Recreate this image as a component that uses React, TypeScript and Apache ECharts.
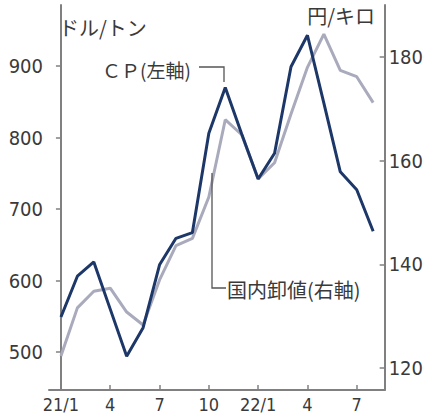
import React, { useEffect, useRef } from "react";
import * as echarts from "echarts";

// Month index 0 = 2021/1 ... 19 = 2022/8
const monthIndex = [0, 1, 2, 3, 4, 5, 6, 7, 8, 9, 10, 11, 12, 13, 14, 15, 16, 17, 18, 19];
// CP (left axis, $/ton)
const cpValues = [549, 606, 626, 560, 494, 534, 622, 659, 667, 806, 870, 805, 742, 778, 899, 943, 848, 752, 727, 669];
// Domestic wholesale price (right axis, yen/kg)
const domesticValues = [122.3, 131.6, 134.8, 135.4, 130.8, 128.3, 137.0, 143.6, 145.0, 153.0, 167.9, 165.0, 156.5, 159.6, 169.0, 178.0, 184.4, 177.4, 176.2, 171.2];
const xTickValues = [0, 3, 6, 9, 12, 15, 18];
const xTickLabels = ["21/1", "4", "7", "10", "22/1", "4", "7"];
const leftTicks = [500, 600, 700, 800, 900];
const rightTicks = [120, 140, 160, 180];

const NUM_FONT = "'Liberation Sans Narrow', 'DejaVu Sans Condensed', 'Liberation Sans', sans-serif";
const CJK_FONT = "'Noto Sans CJK JP', 'Noto Sans', sans-serif";
const AXIS_COLOR = "#808080";
const TEXT_COLOR = "#3a3a3a";

export default function App() {
  const ref = useRef<HTMLDivElement>(null);
  useEffect(() => {
    if (!ref.current) return;
    const chart = echarts.init(ref.current, null, { renderer: "svg" });
    chart.setOption({
      animation: false,
      backgroundColor: "#ffffff",
      grid: { left: 49, right: 40, top: 5, bottom: 26 },
      xAxis: {
        type: "value",
        min: -0.727,
        max: 19.7,
        splitLine: { show: false },
        axisLine: { show: true, lineStyle: { color: AXIS_COLOR, width: 2 } },
        axisTick: { show: true, inside: true, length: 5, customValues: xTickValues, lineStyle: { color: AXIS_COLOR, width: 1.5 } },
        axisLabel: {
          customValues: xTickValues,
          margin: 4,
          color: TEXT_COLOR,
          fontFamily: NUM_FONT,
          fontSize: 18,
          lineHeight: 20,
          formatter: (v: number) => xTickLabels[xTickValues.indexOf(Math.round(v))] ?? "",
        },
      },
      yAxis: [
        {
          type: "value",
          position: "left",
          min: 446.9,
          max: 985.3,
          splitLine: { show: false },
          axisLine: { show: true, lineStyle: { color: AXIS_COLOR, width: 2 } },
          axisTick: { show: true, inside: false, length: 5, customValues: leftTicks, lineStyle: { color: AXIS_COLOR, width: 1.5 } },
          axisLabel: { customValues: leftTicks, margin: 6, color: TEXT_COLOR, fontFamily: NUM_FONT, fontSize: 20 },
        },
        {
          type: "value",
          position: "right",
          min: 115.76,
          max: 190.03,
          splitLine: { show: false },
          axisLine: { show: true, lineStyle: { color: AXIS_COLOR, width: 2 } },
          axisTick: { show: true, inside: true, length: 5, customValues: rightTicks, lineStyle: { color: AXIS_COLOR, width: 1.5 } },
          axisLabel: { customValues: rightTicks, margin: 4, color: TEXT_COLOR, fontFamily: NUM_FONT, fontSize: 20 },
        },
      ],
      series: [
        {
          type: "line",
          yAxisIndex: 1,
          data: monthIndex.map((m, i) => [m, domesticValues[i]]),
          showSymbol: false,
          lineStyle: { color: "#a9abbd", width: 3 },
          z: 2,
        },
        {
          type: "line",
          yAxisIndex: 0,
          data: monthIndex.map((m, i) => [m, cpValues[i]]),
          showSymbol: false,
          lineStyle: { color: "#1d3868", width: 3 },
          z: 3,
        },
      ],
      graphic: [
        { type: "text", x: 59, y: 27, style: { text: "ドル/トン", font: `20px ${CJK_FONT}`, fill: TEXT_COLOR, align: "left", verticalAlign: "middle" } },
        { type: "text", x: 375, y: 15, style: { text: "円/キロ", font: `20px ${CJK_FONT}`, fill: TEXT_COLOR, align: "right", verticalAlign: "middle" } },
        { type: "text", x: 102, y: 69, style: { text: "ＣＰ(左軸)", font: `19px ${CJK_FONT}`, fill: TEXT_COLOR, align: "left", verticalAlign: "middle" } },
        { type: "text", x: 227, y: 289, style: { text: "国内卸値(右軸)", font: `20px ${CJK_FONT}`, fill: TEXT_COLOR, align: "left", verticalAlign: "middle" } },
        { type: "polyline", shape: { points: [[199, 67], [224, 67], [224, 82]] }, style: { stroke: "#555", lineWidth: 1.3, fill: "none" }, z: 10 },
        { type: "polyline", shape: { points: [[212, 173], [212, 288], [226, 288]] }, style: { stroke: "#555", lineWidth: 1.3, fill: "none" }, z: 10 },
      ],
    });
    return () => chart.dispose();
  }, []);
  return <div ref={ref} style={{ width: 426, height: 416, position: "absolute", left: 0, top: 0 }} />;
}
